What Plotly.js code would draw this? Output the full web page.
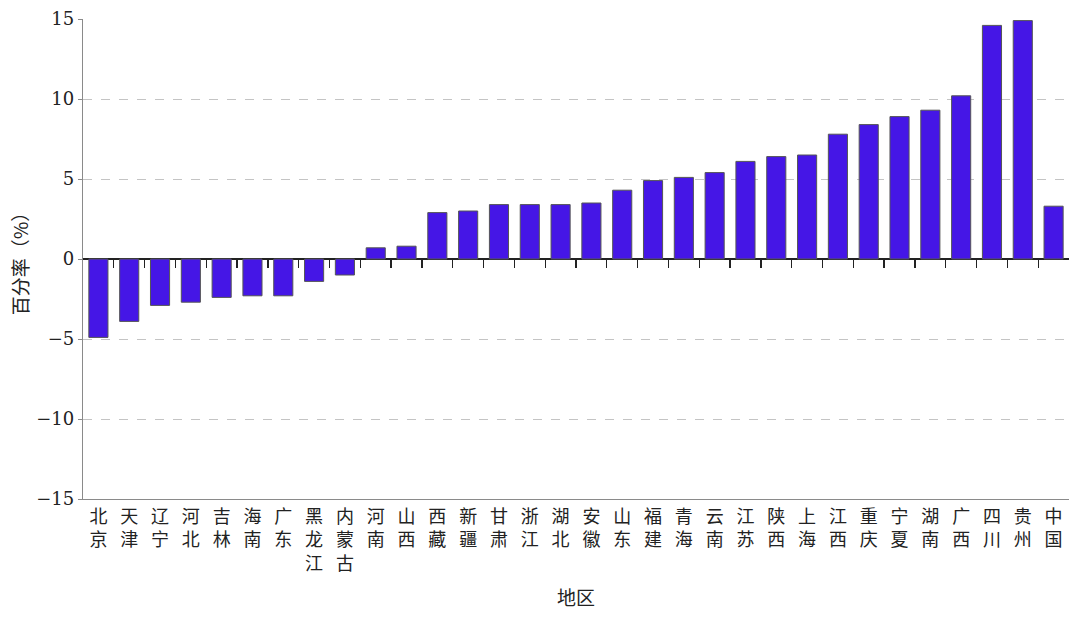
<!DOCTYPE html>
<html>
<head>
<meta charset="utf-8">
<script src="https://cdn.plot.ly/plotly-3.0.1.min.js"></script>
<style>html,body{margin:0;padding:0;background:#fff;}</style>
</head>
<body>
<div id="chart" style="width:1080px;height:619px;"></div>
<script>
const regions = ["北京","天津","辽宁","河北","吉林","海南","广东","黑龙江","内蒙古","河南","山西","西藏","新疆","甘肃","浙江","湖北","安徽","山东","福建","青海","云南","江苏","陕西","上海","江西","重庆","宁夏","湖南","广西","四川","贵州","中国"];
const rates = [-4.9,-3.9,-2.9,-2.7,-2.4,-2.3,-2.3,-1.4,-1.0,0.7,0.8,2.9,3.0,3.4,3.4,3.4,3.5,4.3,4.9,5.1,5.4,6.1,6.4,6.5,7.8,8.4,8.9,9.3,10.2,14.6,14.9,3.3];
const yTicks = [-15,-10,-5,0,5,10,15];

const cjk = '"Noto Sans CJK SC", "Noto Sans", sans-serif';
const serif = '"DejaVu Serif", "Liberation Serif", serif';

const labels = regions.map(r => r.split('').join('<br>'));
const boundaries = regions.slice(1).map((_, i) => i + 0.5);

const traces = [
  {
    type: 'bar',
    x: regions,
    y: rates,
    width: 0.62,
    marker: {color: '#4516E6', line: {color: '#555', width: 1}},
    hoverinfo: 'x+y'
  },
  {
    type: 'scatter', mode: 'markers', x: [], y: [], xaxis: 'x2', showlegend: false, hoverinfo: 'skip'
  }
];

const layout = {
  width: 1080, height: 619,
  margin: {l: 83, r: 11, t: 19, b: 120},
  paper_bgcolor: '#fff', plot_bgcolor: '#fff',
  showlegend: false,
  xaxis: {
    type: 'category',
    range: [-0.5, regions.length - 0.5],
    tickvals: regions,
    ticktext: labels,
    ticks: '',
    showline: true, linecolor: '#8a8a8a', linewidth: 1.2,
    showgrid: false, zeroline: false,
    tickfont: {family: cjk, size: 18, color: '#222'},
    ticklabelstandoff: 1,
    title: {text: '地区', font: {family: cjk, size: 19, color: '#222'}, standoff: 18}
  },
  xaxis2: {
    type: 'linear',
    overlaying: 'x',
    anchor: 'free',
    position: 0.5,
    range: [-0.5, regions.length - 0.5],
    tickvals: boundaries,
    ticks: 'outside', ticklen: 8, tickwidth: 1.3, tickcolor: '#222',
    showticklabels: false, showline: false, showgrid: false, zeroline: false
  },
  yaxis: {
    range: [-15, 15],
    tickvals: yTicks,
    ticks: 'outside', ticklen: 4, tickcolor: '#8a8a8a',
    showline: true, linecolor: '#8a8a8a', linewidth: 1.2,
    showgrid: true, gridcolor: '#c4c4c4', griddash: 'dash', gridwidth: 1,
    zeroline: true, zerolinecolor: '#222', zerolinewidth: 1.3,
    tickfont: {family: serif, size: 18, color: '#222'},
    title: {text: '百分率（%）', font: {family: cjk, size: 19, color: '#222'}, standoff: 2}
  }
};

Plotly.newPlot('chart', traces, layout, {displayModeBar: false, staticPlot: true});
</script>
</body>
</html>
